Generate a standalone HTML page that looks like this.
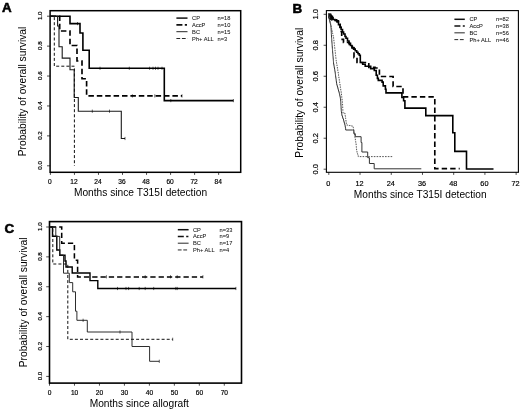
<!DOCTYPE html>
<html><head><meta charset="utf-8"><style>
html,body{margin:0;padding:0;background:#fff;}
body{width:520px;height:409px;overflow:hidden;}
svg{display:block;font-family:"Liberation Sans", sans-serif;filter:blur(0.3px);}
</style></head><body>
<svg width="520" height="409" viewBox="0 0 520 409">
<rect x="0" y="0" width="520" height="409" fill="#fff"/>
<rect x="50.1" y="10.7" width="190.6" height="161.60000000000002" fill="none" stroke="#000" stroke-width="1.5"/>
<line x1="47.00" y1="165.80" x2="50.10" y2="165.80" stroke="#000" stroke-width="0.7"/>
<text x="41.90" y="165.40" font-size="6.2" text-anchor="middle" font-weight="normal" fill="#000" transform="rotate(-90 41.90 165.40)" stroke="#000" stroke-width="0.18">0.0</text>
<line x1="47.00" y1="135.88" x2="50.10" y2="135.88" stroke="#000" stroke-width="0.7"/>
<text x="41.90" y="135.48" font-size="6.2" text-anchor="middle" font-weight="normal" fill="#000" transform="rotate(-90 41.90 135.48)" stroke="#000" stroke-width="0.18">0.2</text>
<line x1="47.00" y1="105.96" x2="50.10" y2="105.96" stroke="#000" stroke-width="0.7"/>
<text x="41.90" y="105.56" font-size="6.2" text-anchor="middle" font-weight="normal" fill="#000" transform="rotate(-90 41.90 105.56)" stroke="#000" stroke-width="0.18">0.4</text>
<line x1="47.00" y1="76.04" x2="50.10" y2="76.04" stroke="#000" stroke-width="0.7"/>
<text x="41.90" y="75.64" font-size="6.2" text-anchor="middle" font-weight="normal" fill="#000" transform="rotate(-90 41.90 75.64)" stroke="#000" stroke-width="0.18">0.6</text>
<line x1="47.00" y1="46.12" x2="50.10" y2="46.12" stroke="#000" stroke-width="0.7"/>
<text x="41.90" y="45.72" font-size="6.2" text-anchor="middle" font-weight="normal" fill="#000" transform="rotate(-90 41.90 45.72)" stroke="#000" stroke-width="0.18">0.8</text>
<line x1="47.00" y1="16.20" x2="50.10" y2="16.20" stroke="#000" stroke-width="0.7"/>
<text x="41.90" y="15.80" font-size="6.2" text-anchor="middle" font-weight="normal" fill="#000" transform="rotate(-90 41.90 15.80)" stroke="#000" stroke-width="0.18">1.0</text>
<line x1="50.40" y1="172.30" x2="50.40" y2="174.90" stroke="#000" stroke-width="0.7"/>
<text x="49.90" y="183.80" font-size="6.6" text-anchor="middle" font-weight="normal" fill="#000" stroke="#000" stroke-width="0.18">0</text>
<line x1="74.44" y1="172.30" x2="74.44" y2="174.90" stroke="#000" stroke-width="0.7"/>
<text x="73.94" y="183.80" font-size="6.6" text-anchor="middle" font-weight="normal" fill="#000" stroke="#000" stroke-width="0.18">12</text>
<line x1="98.47" y1="172.30" x2="98.47" y2="174.90" stroke="#000" stroke-width="0.7"/>
<text x="97.97" y="183.80" font-size="6.6" text-anchor="middle" font-weight="normal" fill="#000" stroke="#000" stroke-width="0.18">24</text>
<line x1="122.51" y1="172.30" x2="122.51" y2="174.90" stroke="#000" stroke-width="0.7"/>
<text x="122.01" y="183.80" font-size="6.6" text-anchor="middle" font-weight="normal" fill="#000" stroke="#000" stroke-width="0.18">36</text>
<line x1="146.54" y1="172.30" x2="146.54" y2="174.90" stroke="#000" stroke-width="0.7"/>
<text x="146.04" y="183.80" font-size="6.6" text-anchor="middle" font-weight="normal" fill="#000" stroke="#000" stroke-width="0.18">48</text>
<line x1="170.58" y1="172.30" x2="170.58" y2="174.90" stroke="#000" stroke-width="0.7"/>
<text x="170.08" y="183.80" font-size="6.6" text-anchor="middle" font-weight="normal" fill="#000" stroke="#000" stroke-width="0.18">60</text>
<line x1="194.62" y1="172.30" x2="194.62" y2="174.90" stroke="#000" stroke-width="0.7"/>
<text x="194.12" y="183.80" font-size="6.6" text-anchor="middle" font-weight="normal" fill="#000" stroke="#000" stroke-width="0.18">72</text>
<line x1="218.65" y1="172.30" x2="218.65" y2="174.90" stroke="#000" stroke-width="0.7"/>
<text x="218.15" y="183.80" font-size="6.6" text-anchor="middle" font-weight="normal" fill="#000" stroke="#000" stroke-width="0.18">84</text>
<text x="140.50" y="195.80" font-size="10.2" text-anchor="middle" font-weight="normal" fill="#000" textLength="133.2" lengthAdjust="spacingAndGlyphs" >Months since T315I detection</text>
<text x="25.60" y="91.50" font-size="10.2" text-anchor="middle" font-weight="normal" fill="#000" transform="rotate(-90 25.60 91.50)" textLength="129.5" lengthAdjust="spacingAndGlyphs" >Probability of overall survival</text>
<text x="2.00" y="11.50" font-size="13.4" text-anchor="start" font-weight="bold" fill="#000" stroke="#000" stroke-width="0.55">A</text>
<path d="M50.10,16.20H70.00V23.60H80.00V33.00H82.90V50.30H89.20V68.30H164.30V100.60H233.40" fill="none" stroke="#000" stroke-width="1.6" stroke-linejoin="miter" stroke-linecap="butt" />
<line x1="77.50" y1="22.00" x2="77.50" y2="25.20" stroke="#000" stroke-width="0.6"/>
<line x1="100.00" y1="66.70" x2="100.00" y2="69.90" stroke="#000" stroke-width="0.6"/>
<line x1="129.30" y1="66.70" x2="129.30" y2="69.90" stroke="#000" stroke-width="0.6"/>
<line x1="149.60" y1="66.70" x2="149.60" y2="69.90" stroke="#000" stroke-width="0.6"/>
<line x1="153.00" y1="66.70" x2="153.00" y2="69.90" stroke="#000" stroke-width="0.6"/>
<line x1="155.50" y1="66.70" x2="155.50" y2="69.90" stroke="#000" stroke-width="0.6"/>
<line x1="158.00" y1="66.70" x2="158.00" y2="69.90" stroke="#000" stroke-width="0.6"/>
<line x1="162.00" y1="66.70" x2="162.00" y2="69.90" stroke="#000" stroke-width="0.6"/>
<line x1="170.80" y1="99.00" x2="170.80" y2="102.20" stroke="#000" stroke-width="0.6"/>
<line x1="233.40" y1="99.00" x2="233.40" y2="102.20" stroke="#000" stroke-width="0.6"/>
<path d="M50.10,16.20H59.70V31.00H70.00V45.50H77.00V61.00H82.00V78.70H86.60V95.90H182.00" fill="none" stroke="#000" stroke-width="1.65" stroke-dasharray="5.5,2.9" stroke-linejoin="miter" stroke-linecap="butt" stroke-dashoffset="-0.4"/>
<line x1="132.40" y1="94.30" x2="132.40" y2="97.50" stroke="#000" stroke-width="0.6"/>
<line x1="154.80" y1="94.30" x2="154.80" y2="97.50" stroke="#000" stroke-width="0.6"/>
<line x1="182.00" y1="94.30" x2="182.00" y2="97.50" stroke="#000" stroke-width="0.6"/>
<path d="M50.10,16.20H57.60V26.00H59.00V46.80H62.20V58.10H70.00V69.80H74.20V97.50H78.30V111.20H121.30V138.50H125.00" fill="none" stroke="#1a1a1a" stroke-width="1.1" stroke-linejoin="miter" stroke-linecap="butt" />
<line x1="92.30" y1="109.60" x2="92.30" y2="112.80" stroke="#000" stroke-width="0.6"/>
<line x1="109.50" y1="109.60" x2="109.50" y2="112.80" stroke="#000" stroke-width="0.6"/>
<line x1="125.00" y1="136.90" x2="125.00" y2="140.10" stroke="#000" stroke-width="0.6"/>
<path d="M50.10,16.20H54.30V66.20H74.40V165.90" fill="none" stroke="#111" stroke-width="1.0" stroke-dasharray="3,2.1" stroke-linejoin="miter" stroke-linecap="butt" />
<line x1="176.40" y1="18.10" x2="187.50" y2="18.10" stroke="#111" stroke-width="1.5"/>
<text x="192.10" y="20.10" font-size="5.7" text-anchor="start" font-weight="normal" fill="#111" stroke="#111" stroke-width="0.05">CP</text>
<text x="217.60" y="20.10" font-size="5.7" text-anchor="start" font-weight="normal" fill="#111" stroke="#111" stroke-width="0.05">n=18</text>
<line x1="176.40" y1="24.90" x2="187.50" y2="24.90" stroke="#111" stroke-width="1.6" stroke-dasharray="6,2.4,2.2,20"/>
<text x="192.10" y="26.90" font-size="5.7" text-anchor="start" font-weight="normal" fill="#111" stroke="#111" stroke-width="0.05">AccP</text>
<text x="217.60" y="26.90" font-size="5.7" text-anchor="start" font-weight="normal" fill="#111" stroke="#111" stroke-width="0.05">n=10</text>
<line x1="176.40" y1="31.70" x2="187.50" y2="31.70" stroke="#000" stroke-width="0.85"/>
<text x="192.10" y="33.70" font-size="5.7" text-anchor="start" font-weight="normal" fill="#111" stroke="#111" stroke-width="0.05">BC</text>
<text x="217.60" y="33.70" font-size="5.7" text-anchor="start" font-weight="normal" fill="#111" stroke="#111" stroke-width="0.05">n=15</text>
<line x1="176.40" y1="38.50" x2="187.50" y2="38.50" stroke="#000" stroke-width="0.85" stroke-dasharray="3.8,1.7"/>
<text x="192.10" y="40.50" font-size="5.7" text-anchor="start" font-weight="normal" fill="#111" stroke="#111" stroke-width="0.05">Ph+ ALL</text>
<text x="217.60" y="40.50" font-size="5.7" text-anchor="start" font-weight="normal" fill="#111" stroke="#111" stroke-width="0.05">n=3</text>
<rect x="326.4" y="10.6" width="192.0" height="161.70000000000002" fill="none" stroke="#000" stroke-width="1.1"/>
<line x1="323.60" y1="169.20" x2="326.40" y2="169.20" stroke="#000" stroke-width="0.7"/>
<text x="318.40" y="169.20" font-size="7.5" text-anchor="middle" font-weight="normal" fill="#000" transform="rotate(-90 318.40 169.20)" stroke="#000" stroke-width="0.18">0.0</text>
<line x1="323.60" y1="138.22" x2="326.40" y2="138.22" stroke="#000" stroke-width="0.7"/>
<text x="318.40" y="138.22" font-size="7.5" text-anchor="middle" font-weight="normal" fill="#000" transform="rotate(-90 318.40 138.22)" stroke="#000" stroke-width="0.18">0.2</text>
<line x1="323.60" y1="107.24" x2="326.40" y2="107.24" stroke="#000" stroke-width="0.7"/>
<text x="318.40" y="107.24" font-size="7.5" text-anchor="middle" font-weight="normal" fill="#000" transform="rotate(-90 318.40 107.24)" stroke="#000" stroke-width="0.18">0.4</text>
<line x1="323.60" y1="76.26" x2="326.40" y2="76.26" stroke="#000" stroke-width="0.7"/>
<text x="318.40" y="76.26" font-size="7.5" text-anchor="middle" font-weight="normal" fill="#000" transform="rotate(-90 318.40 76.26)" stroke="#000" stroke-width="0.18">0.6</text>
<line x1="323.60" y1="45.28" x2="326.40" y2="45.28" stroke="#000" stroke-width="0.7"/>
<text x="318.40" y="45.28" font-size="7.5" text-anchor="middle" font-weight="normal" fill="#000" transform="rotate(-90 318.40 45.28)" stroke="#000" stroke-width="0.18">0.8</text>
<line x1="323.60" y1="14.30" x2="326.40" y2="14.30" stroke="#000" stroke-width="0.7"/>
<text x="318.40" y="14.30" font-size="7.5" text-anchor="middle" font-weight="normal" fill="#000" transform="rotate(-90 318.40 14.30)" stroke="#000" stroke-width="0.18">1.0</text>
<line x1="328.80" y1="172.30" x2="328.80" y2="174.90" stroke="#000" stroke-width="0.7"/>
<text x="328.30" y="186.00" font-size="7.3" text-anchor="middle" font-weight="normal" fill="#000" stroke="#000" stroke-width="0.18">0</text>
<line x1="360.02" y1="172.30" x2="360.02" y2="174.90" stroke="#000" stroke-width="0.7"/>
<text x="359.52" y="186.00" font-size="7.3" text-anchor="middle" font-weight="normal" fill="#000" stroke="#000" stroke-width="0.18">12</text>
<line x1="391.25" y1="172.30" x2="391.25" y2="174.90" stroke="#000" stroke-width="0.7"/>
<text x="390.75" y="186.00" font-size="7.3" text-anchor="middle" font-weight="normal" fill="#000" stroke="#000" stroke-width="0.18">24</text>
<line x1="422.47" y1="172.30" x2="422.47" y2="174.90" stroke="#000" stroke-width="0.7"/>
<text x="421.97" y="186.00" font-size="7.3" text-anchor="middle" font-weight="normal" fill="#000" stroke="#000" stroke-width="0.18">36</text>
<line x1="453.70" y1="172.30" x2="453.70" y2="174.90" stroke="#000" stroke-width="0.7"/>
<text x="453.20" y="186.00" font-size="7.3" text-anchor="middle" font-weight="normal" fill="#000" stroke="#000" stroke-width="0.18">48</text>
<line x1="484.92" y1="172.30" x2="484.92" y2="174.90" stroke="#000" stroke-width="0.7"/>
<text x="484.42" y="186.00" font-size="7.3" text-anchor="middle" font-weight="normal" fill="#000" stroke="#000" stroke-width="0.18">60</text>
<line x1="516.14" y1="172.30" x2="516.14" y2="174.90" stroke="#000" stroke-width="0.7"/>
<text x="515.64" y="186.00" font-size="7.3" text-anchor="middle" font-weight="normal" fill="#000" stroke="#000" stroke-width="0.18">72</text>
<text x="420.20" y="198.10" font-size="10.2" text-anchor="middle" font-weight="normal" fill="#000" textLength="132.7" lengthAdjust="spacingAndGlyphs" >Months since T315I detection</text>
<text x="302.70" y="92.70" font-size="10.0" text-anchor="middle" font-weight="normal" fill="#000" transform="rotate(-90 302.70 92.70)" textLength="130.0" lengthAdjust="spacingAndGlyphs" >Probability of overall survival</text>
<text x="292.60" y="13.40" font-size="13.4" text-anchor="start" font-weight="bold" fill="#000" stroke="#000" stroke-width="0.55">B</text>
<path d="M328.40,14.40H330.50V16.50H332.50V19.50H335.00V20.50H337.00V22.00H338.50V24.70H340.00V27.50H341.10V29.50H342.50V32.00H343.60V34.00H345.00V36.50H346.00V38.30H347.50V41.00H349.00V43.20H350.50V45.50H351.90V47.60H353.60V49.10H355.20V50.70H356.70V52.20H358.00V53.80H359.30V55.30H360.30V62.50H362.70V64.30H365.20V66.20H370.70V68.60H374.30V70.50H376.20V75.30H377.40V78.40H378.30V80.40H382.10V82.10H383.20V85.90H385.40V89.20H386.00V92.90H401.90V97.50H403.60V100.80H404.90V108.10H425.80V115.60H452.80V132.80H454.80V151.40H466.50V169.00H493.50V169.00" fill="none" stroke="#000" stroke-width="1.6" stroke-linejoin="miter" stroke-linecap="butt" />
<path d="M327.9,13.7L331.2,13.7L333.6,19.2L331.6,20.8L329.4,19.6L328.2,17.5Z" fill="#111"/>
<path d="M328.40,14.40H331.60V17.80H333.00V19.80H336.50V20.80H338.40V23.20H340.20V27.20H341.20V31.50H341.70V36.40H342.20V39.40H343.50V42.50H349.30V44.40H352.30V47.90H354.00V57.60H357.00V62.50H368.80V67.40H372.00V67.40H375.00V68.00H379.40V68.00H379.40V76.50H393.10V76.50H393.10V86.50H403.00V86.50H403.00V96.90H434.80V96.90H434.80V168.60H459.70V168.60" fill="none" stroke="#000" stroke-width="1.65" stroke-dasharray="5.4,3.1" stroke-linejoin="miter" stroke-linecap="butt" stroke-dashoffset="-4.0"/>
<path d="M328.40,14.40H328.60V15.90H328.80V17.40H329.00V18.90H329.32V20.12H329.63V21.33H329.95V22.55H330.27V23.77H330.58V24.98H330.90V26.20H330.97V27.42H331.04V28.64H331.11V29.86H331.18V31.08H331.25V32.30H331.32V33.52H331.39V34.74H331.46V35.96H331.53V37.18H331.60V38.40H331.69V39.63H331.78V40.86H331.87V42.09H331.96V43.32H332.05V44.55H332.14V45.78H332.23V47.01H332.32V48.24H332.41V49.47H332.50V50.70H332.60V51.91H332.70V53.12H332.80V54.33H332.90V55.54H333.00V56.75H333.10V57.95H333.20V59.16H333.30V60.37H333.40V61.58H333.50V62.79H333.60V64.00H333.83V65.33H334.07V66.67H334.30V68.00H334.53V69.33H334.77V70.67H335.00V72.00H335.17V73.25H335.34V74.50H335.51V75.75H335.68V77.00H335.85V78.25H336.02V79.50H336.19V80.75H336.36V82.00H336.53V83.25H336.70V84.50H337.06V85.79H337.43V87.08H337.79V88.36H338.15V89.65H338.51V90.94H338.88V92.22H339.24V93.51H339.60V94.80H339.85V96.10H340.10V97.40H340.35V98.70H340.60V100.00H340.68V101.30H340.76V102.60H340.83V103.90H340.91V105.20H340.99V106.50H341.07V107.80H341.14V109.10H341.22V110.40H341.30V111.70H341.53V113.17H341.77V114.63H342.00V116.10H342.50V117.57H343.00V119.03H343.50V120.50H343.88V121.80H344.25V123.10H344.62V124.40H345.00V125.70H345.23V127.13H345.47V128.57H345.70V130.00H352.30V130.00H353.80V133.70H355.30V136.70H361.10V136.70H361.10V142.50H361.90V152.00H367.70V152.00H367.70V157.70H369.40V157.70H369.40V163.50H374.20V163.50H374.20V168.80H421.30V168.80" fill="none" stroke="#333" stroke-width="1.0" stroke-linejoin="miter" stroke-linecap="butt" />
<path d="M328.40,14.40H328.68V15.71H328.96V17.02H329.23V18.33H329.51V19.64H329.79V20.96H330.07V22.27H330.34V23.58H330.62V24.89H330.90V26.20H331.17V27.42H331.44V28.64H331.71V29.86H331.98V31.08H332.25V32.30H332.52V33.52H332.79V34.74H333.06V35.96H333.33V37.18H333.60V38.40H333.74V39.63H333.88V40.86H334.02V42.09H334.16V43.32H334.30V44.55H334.44V45.78H334.58V47.01H334.72V48.24H334.86V49.47H335.00V50.70H335.14V51.96H335.29V53.21H335.43V54.47H335.58V55.72H335.72V56.98H335.87V58.23H336.01V59.49H336.16V60.74H336.30V62.00H336.51V63.25H336.73V64.50H336.94V65.75H337.15V67.00H337.36V68.25H337.57V69.50H337.79V70.75H338.00V72.00H338.18V73.20H338.36V74.40H338.54V75.60H338.72V76.80H338.90V78.00H339.08V79.20H339.26V80.40H339.44V81.60H339.62V82.80H339.80V84.00H339.99V85.22H340.18V86.44H340.37V87.67H340.56V88.89H340.74V90.11H340.93V91.33H341.12V92.56H341.31V93.78H341.50V95.00H341.64V96.29H341.79V97.57H341.93V98.86H342.07V100.14H342.21V101.43H342.36V102.71H342.50V104.00H342.57V105.31H342.64V106.63H342.71V107.94H342.79V109.26H342.86V110.57H342.93V111.89H343.00V113.20H345.00V114.70H345.19V115.99H345.38V117.28H345.56V118.56H345.75V119.85H345.94V121.14H346.12V122.42H346.31V123.71H346.50V125.00H347.80V125.28H349.10V125.56H350.40V125.84H351.70V126.12H353.00V126.40H353.21V127.66H353.43V128.91H353.64V130.17H353.86V131.43H354.07V132.69H354.29V133.94H354.50V135.20H354.71V136.46H354.93V137.71H355.14V138.97H355.36V140.23H355.57V141.49H355.79V142.74H356.00V144.00H356.12V145.22H356.23V146.43H356.35V147.65H356.47V148.87H356.58V150.08H356.70V151.30H357.07V152.62H357.45V153.95H357.82V155.28H358.20V156.60H392.50V156.60" fill="none" stroke="#555" stroke-width="1.0" stroke-dasharray="1.6,1.2" stroke-linejoin="miter" stroke-linecap="butt" />
<line x1="454.40" y1="19.30" x2="464.80" y2="19.30" stroke="#111" stroke-width="1.5"/>
<text x="469.50" y="21.30" font-size="5.7" text-anchor="start" font-weight="normal" fill="#111" stroke="#111" stroke-width="0.05">CP</text>
<text x="496.10" y="21.30" font-size="5.7" text-anchor="start" font-weight="normal" fill="#111" stroke="#111" stroke-width="0.05">n=82</text>
<line x1="454.40" y1="26.07" x2="464.80" y2="26.07" stroke="#111" stroke-width="1.6" stroke-dasharray="6,2.4,2.2,20"/>
<text x="469.50" y="28.07" font-size="5.7" text-anchor="start" font-weight="normal" fill="#111" stroke="#111" stroke-width="0.05">AccP</text>
<text x="496.10" y="28.07" font-size="5.7" text-anchor="start" font-weight="normal" fill="#111" stroke="#111" stroke-width="0.05">n=38</text>
<line x1="454.40" y1="32.84" x2="464.80" y2="32.84" stroke="#000" stroke-width="0.85"/>
<text x="469.50" y="34.84" font-size="5.7" text-anchor="start" font-weight="normal" fill="#111" stroke="#111" stroke-width="0.05">BC</text>
<text x="496.10" y="34.84" font-size="5.7" text-anchor="start" font-weight="normal" fill="#111" stroke="#111" stroke-width="0.05">n=56</text>
<line x1="454.40" y1="39.61" x2="464.80" y2="39.61" stroke="#000" stroke-width="0.85" stroke-dasharray="3.8,1.7"/>
<text x="469.50" y="41.61" font-size="5.7" text-anchor="start" font-weight="normal" fill="#111" stroke="#111" stroke-width="0.05">Ph+ ALL</text>
<text x="496.10" y="41.61" font-size="5.7" text-anchor="start" font-weight="normal" fill="#111" stroke="#111" stroke-width="0.05">n=46</text>
<rect x="49.5" y="221.6" width="192.0" height="161.50000000000003" fill="none" stroke="#000" stroke-width="1.6"/>
<line x1="46.20" y1="376.40" x2="49.50" y2="376.40" stroke="#000" stroke-width="0.7"/>
<text x="41.80" y="376.00" font-size="6.2" text-anchor="middle" font-weight="normal" fill="#000" transform="rotate(-90 41.80 376.00)" stroke="#000" stroke-width="0.18">0.0</text>
<line x1="46.20" y1="346.52" x2="49.50" y2="346.52" stroke="#000" stroke-width="0.7"/>
<text x="41.80" y="346.12" font-size="6.2" text-anchor="middle" font-weight="normal" fill="#000" transform="rotate(-90 41.80 346.12)" stroke="#000" stroke-width="0.18">0.2</text>
<line x1="46.20" y1="316.64" x2="49.50" y2="316.64" stroke="#000" stroke-width="0.7"/>
<text x="41.80" y="316.24" font-size="6.2" text-anchor="middle" font-weight="normal" fill="#000" transform="rotate(-90 41.80 316.24)" stroke="#000" stroke-width="0.18">0.4</text>
<line x1="46.20" y1="286.76" x2="49.50" y2="286.76" stroke="#000" stroke-width="0.7"/>
<text x="41.80" y="286.36" font-size="6.2" text-anchor="middle" font-weight="normal" fill="#000" transform="rotate(-90 41.80 286.36)" stroke="#000" stroke-width="0.18">0.6</text>
<line x1="46.20" y1="256.88" x2="49.50" y2="256.88" stroke="#000" stroke-width="0.7"/>
<text x="41.80" y="256.48" font-size="6.2" text-anchor="middle" font-weight="normal" fill="#000" transform="rotate(-90 41.80 256.48)" stroke="#000" stroke-width="0.18">0.8</text>
<line x1="46.20" y1="227.00" x2="49.50" y2="227.00" stroke="#000" stroke-width="0.7"/>
<text x="41.80" y="226.60" font-size="6.2" text-anchor="middle" font-weight="normal" fill="#000" transform="rotate(-90 41.80 226.60)" stroke="#000" stroke-width="0.18">1.0</text>
<line x1="49.50" y1="383.10" x2="49.50" y2="385.70" stroke="#000" stroke-width="0.7"/>
<text x="49.60" y="394.90" font-size="6.6" text-anchor="middle" font-weight="normal" fill="#000" stroke="#000" stroke-width="0.18">0</text>
<line x1="74.47" y1="383.10" x2="74.47" y2="385.70" stroke="#000" stroke-width="0.7"/>
<text x="74.57" y="394.90" font-size="6.6" text-anchor="middle" font-weight="normal" fill="#000" stroke="#000" stroke-width="0.18">10</text>
<line x1="99.44" y1="383.10" x2="99.44" y2="385.70" stroke="#000" stroke-width="0.7"/>
<text x="99.54" y="394.90" font-size="6.6" text-anchor="middle" font-weight="normal" fill="#000" stroke="#000" stroke-width="0.18">20</text>
<line x1="124.41" y1="383.10" x2="124.41" y2="385.70" stroke="#000" stroke-width="0.7"/>
<text x="124.51" y="394.90" font-size="6.6" text-anchor="middle" font-weight="normal" fill="#000" stroke="#000" stroke-width="0.18">30</text>
<line x1="149.38" y1="383.10" x2="149.38" y2="385.70" stroke="#000" stroke-width="0.7"/>
<text x="149.48" y="394.90" font-size="6.6" text-anchor="middle" font-weight="normal" fill="#000" stroke="#000" stroke-width="0.18">40</text>
<line x1="174.35" y1="383.10" x2="174.35" y2="385.70" stroke="#000" stroke-width="0.7"/>
<text x="174.45" y="394.90" font-size="6.6" text-anchor="middle" font-weight="normal" fill="#000" stroke="#000" stroke-width="0.18">50</text>
<line x1="199.32" y1="383.10" x2="199.32" y2="385.70" stroke="#000" stroke-width="0.7"/>
<text x="199.42" y="394.90" font-size="6.6" text-anchor="middle" font-weight="normal" fill="#000" stroke="#000" stroke-width="0.18">60</text>
<line x1="224.29" y1="383.10" x2="224.29" y2="385.70" stroke="#000" stroke-width="0.7"/>
<text x="224.39" y="394.90" font-size="6.6" text-anchor="middle" font-weight="normal" fill="#000" stroke="#000" stroke-width="0.18">70</text>
<text x="139.30" y="407.10" font-size="10.2" text-anchor="middle" font-weight="normal" fill="#000" textLength="99.3" lengthAdjust="spacingAndGlyphs" >Months since allograft</text>
<text x="27.40" y="302.40" font-size="10.1" text-anchor="middle" font-weight="normal" fill="#000" transform="rotate(-90 27.40 302.40)" textLength="129.8" lengthAdjust="spacingAndGlyphs" >Probability of overall survival</text>
<text x="4.60" y="233.00" font-size="13.4" text-anchor="start" font-weight="bold" fill="#000" stroke="#000" stroke-width="0.55">C</text>
<path d="M49.50,227.00H52.50V236.30H56.80V250.00H59.80V255.30H65.00V261.00H66.00V267.00H72.20V273.00H90.00V280.60H97.80V288.50H235.90" fill="none" stroke="#000" stroke-width="1.4" stroke-linejoin="miter" stroke-linecap="butt" />
<line x1="117.50" y1="286.90" x2="117.50" y2="290.10" stroke="#000" stroke-width="0.6"/>
<line x1="126.00" y1="286.90" x2="126.00" y2="290.10" stroke="#000" stroke-width="0.6"/>
<line x1="128.60" y1="286.90" x2="128.60" y2="290.10" stroke="#000" stroke-width="0.6"/>
<line x1="139.20" y1="286.90" x2="139.20" y2="290.10" stroke="#000" stroke-width="0.6"/>
<line x1="145.20" y1="286.90" x2="145.20" y2="290.10" stroke="#000" stroke-width="0.6"/>
<line x1="153.70" y1="286.90" x2="153.70" y2="290.10" stroke="#000" stroke-width="0.6"/>
<line x1="175.80" y1="286.90" x2="175.80" y2="290.10" stroke="#000" stroke-width="0.6"/>
<line x1="177.20" y1="286.90" x2="177.20" y2="290.10" stroke="#000" stroke-width="0.6"/>
<line x1="235.90" y1="286.90" x2="235.90" y2="290.10" stroke="#000" stroke-width="0.6"/>
<path d="M49.50,227.00H61.70V243.20H74.40V260.30H77.60V277.00H202.90" fill="none" stroke="#000" stroke-width="1.55" stroke-dasharray="5.3,3" stroke-linejoin="miter" stroke-linecap="butt" stroke-dashoffset="-1.4"/>
<line x1="106.40" y1="275.20" x2="106.40" y2="278.40" stroke="#000" stroke-width="0.6"/>
<line x1="145.20" y1="275.20" x2="145.20" y2="278.40" stroke="#000" stroke-width="0.6"/>
<line x1="170.50" y1="275.20" x2="170.50" y2="278.40" stroke="#000" stroke-width="0.6"/>
<line x1="177.20" y1="275.20" x2="177.20" y2="278.40" stroke="#000" stroke-width="0.6"/>
<line x1="202.90" y1="275.20" x2="202.90" y2="278.40" stroke="#000" stroke-width="0.6"/>
<path d="M49.50,227.00H55.80V236.40H59.70V255.00H63.50V273.20H69.30V282.60H72.70V291.80H75.50V311.20H76.90V320.30H87.30V332.00H132.00V346.50H149.60V361.30H159.30" fill="none" stroke="#222" stroke-width="0.95" stroke-linejoin="miter" stroke-linecap="butt" />
<line x1="83.10" y1="318.70" x2="83.10" y2="321.90" stroke="#000" stroke-width="0.6"/>
<line x1="120.00" y1="330.40" x2="120.00" y2="333.60" stroke="#000" stroke-width="0.6"/>
<line x1="159.30" y1="359.70" x2="159.30" y2="362.90" stroke="#000" stroke-width="0.6"/>
<path d="M49.50,227.00H52.80V264.00H67.80V339.30H172.70" fill="none" stroke="#111" stroke-width="1.0" stroke-dasharray="3,2.1" stroke-linejoin="miter" stroke-linecap="butt" />
<line x1="172.70" y1="337.70" x2="172.70" y2="340.90" stroke="#000" stroke-width="0.6"/>
<line x1="177.80" y1="229.70" x2="188.60" y2="229.70" stroke="#111" stroke-width="1.5"/>
<text x="193.00" y="231.70" font-size="5.7" text-anchor="start" font-weight="normal" fill="#111" stroke="#111" stroke-width="0.05">CP</text>
<text x="219.50" y="231.70" font-size="5.7" text-anchor="start" font-weight="normal" fill="#111" stroke="#111" stroke-width="0.05">n=33</text>
<line x1="177.80" y1="236.45" x2="188.60" y2="236.45" stroke="#111" stroke-width="1.6" stroke-dasharray="6,2.4,2.2,20"/>
<text x="193.00" y="238.45" font-size="5.7" text-anchor="start" font-weight="normal" fill="#111" stroke="#111" stroke-width="0.05">AccP</text>
<text x="219.50" y="238.45" font-size="5.7" text-anchor="start" font-weight="normal" fill="#111" stroke="#111" stroke-width="0.05">n=9</text>
<line x1="177.80" y1="243.20" x2="188.60" y2="243.20" stroke="#000" stroke-width="0.85"/>
<text x="193.00" y="245.20" font-size="5.7" text-anchor="start" font-weight="normal" fill="#111" stroke="#111" stroke-width="0.05">BC</text>
<text x="219.50" y="245.20" font-size="5.7" text-anchor="start" font-weight="normal" fill="#111" stroke="#111" stroke-width="0.05">n=17</text>
<line x1="177.80" y1="249.95" x2="188.60" y2="249.95" stroke="#000" stroke-width="0.85" stroke-dasharray="3.8,1.7"/>
<text x="193.00" y="251.95" font-size="5.7" text-anchor="start" font-weight="normal" fill="#111" stroke="#111" stroke-width="0.05">Ph+ ALL</text>
<text x="219.50" y="251.95" font-size="5.7" text-anchor="start" font-weight="normal" fill="#111" stroke="#111" stroke-width="0.05">n=4</text>
</svg>
</body></html>
